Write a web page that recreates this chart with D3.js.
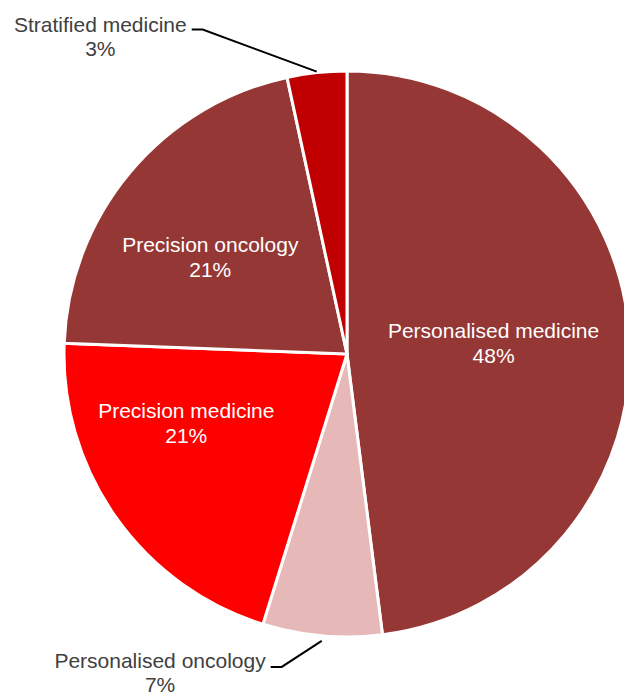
<!DOCTYPE html>
<html>
<head>
<meta charset="utf-8">
<script src="https://cdn.jsdelivr.net/npm/d3@7"></script>
<style>
  body { margin: 0; background: #fff; }
  svg { display: block; font-family: "Liberation Sans", Arial, sans-serif; }
</style>
</head>
<body>
<div id="piediv"></div>
<script>
// chart data
var labels = ["Personalised medicine", "Personalised oncology", "Precision medicine", "Precision oncology", "Stratified medicine"];
var values = [48.0, 6.8, 20.8, 21.0, 3.4];
var pctLabels = ["48%", "7%", "21%", "21%", "3%"];
var colors = ["#953735", "#E6B9B8", "#FF0000", "#953735", "#C00000"];
var outside = [false, true, false, false, true];

// where inside labels sit: fraction of radius, and nudge of the angle in degrees
var labelRad = [0.52, 0, 0.616, 0.597, 0];
var labelNudge = [-1.5, 0, 12.5, -4, 0];

var w = 624;
var h = 696;
var cx = 347;
var cy = 354;
var r = 283;

var svg = d3.select("#piediv")
            .append("svg")
              .attr("width", w)
              .attr("height", h);

var g = svg.append("g")
           .attr("transform", "translate(" + cx + "," + cy + ")");

var pie = d3.pie().sort(null).value(function(d) { return d; });
var arcs = pie(values);

var arc = d3.arc().innerRadius(0).outerRadius(r);

g.selectAll("path")
   .data(arcs)
   .enter()
   .append("path")
   .attr("d", arc)
   .attr("fill", function(d, i) { return colors[i]; })
   .attr("stroke", "#fff")
   .attr("stroke-width", 3);

// inside labels
g.selectAll("text.inner")
   .data(arcs.filter(function(d, i) { return !outside[i]; }))
   .enter()
   .append("text")
   .attr("class", "inner")
   .attr("text-anchor", "middle")
   .attr("fill", "#fff")
   .attr("font-size", "21px")
   .each(function(d) {
     var a = (d.startAngle + d.endAngle) / 2 + labelNudge[d.index] * Math.PI / 180;
     var rr = r * labelRad[d.index];
     var x = Math.sin(a) * rr, y = -Math.cos(a) * rr;
     var t = d3.select(this);
     t.append("tspan").attr("x", x).attr("y", y - 3).text(labels[d.index]);
     t.append("tspan").attr("x", x).attr("y", y + 22).text(pctLabels[d.index]);
   });

// outside labels with leader lines
arcs.forEach(function(d, i) {
  if (!outside[i]) return;
  var mid = (d.startAngle + d.endAngle) / 2;
  var bottom = mid > Math.PI / 2 && mid < 3 * Math.PI / 2;
  var r0 = bottom ? r + 5 : r + 1;
  var x0 = Math.sin(mid) * r0, y0 = -Math.cos(mid) * r0;
  var x1, y1;
  if (bottom) {
    x1 = x0 - 40; y1 = y0 + 26;
  } else {
    x1 = x0 - 114; y1 = y0 - 42;
  }
  var x2 = x1 - 11;
  g.append("polyline")
   .attr("points", [[x0, y0], [x1, y1], [x2, y1]].join(" "))
   .attr("fill", "none")
   .attr("stroke", "#000")
   .attr("stroke-width", 2);
  var t = g.append("text")
           .attr("fill", "#404040")
           .attr("font-size", "21px")
           .attr("text-anchor", "middle");
  var ty = bottom ? y1 + 1 : y1 + 2;
  var line1 = t.append("tspan").attr("y", ty).text(labels[i]);
  var bw = line1.node().getComputedTextLength();
  var tc = x2 - 5 - bw / 2;
  line1.attr("x", tc);
  t.append("tspan").attr("x", tc).attr("y", ty + 24).text(pctLabels[i]);
});
</script>
</body>
</html>
